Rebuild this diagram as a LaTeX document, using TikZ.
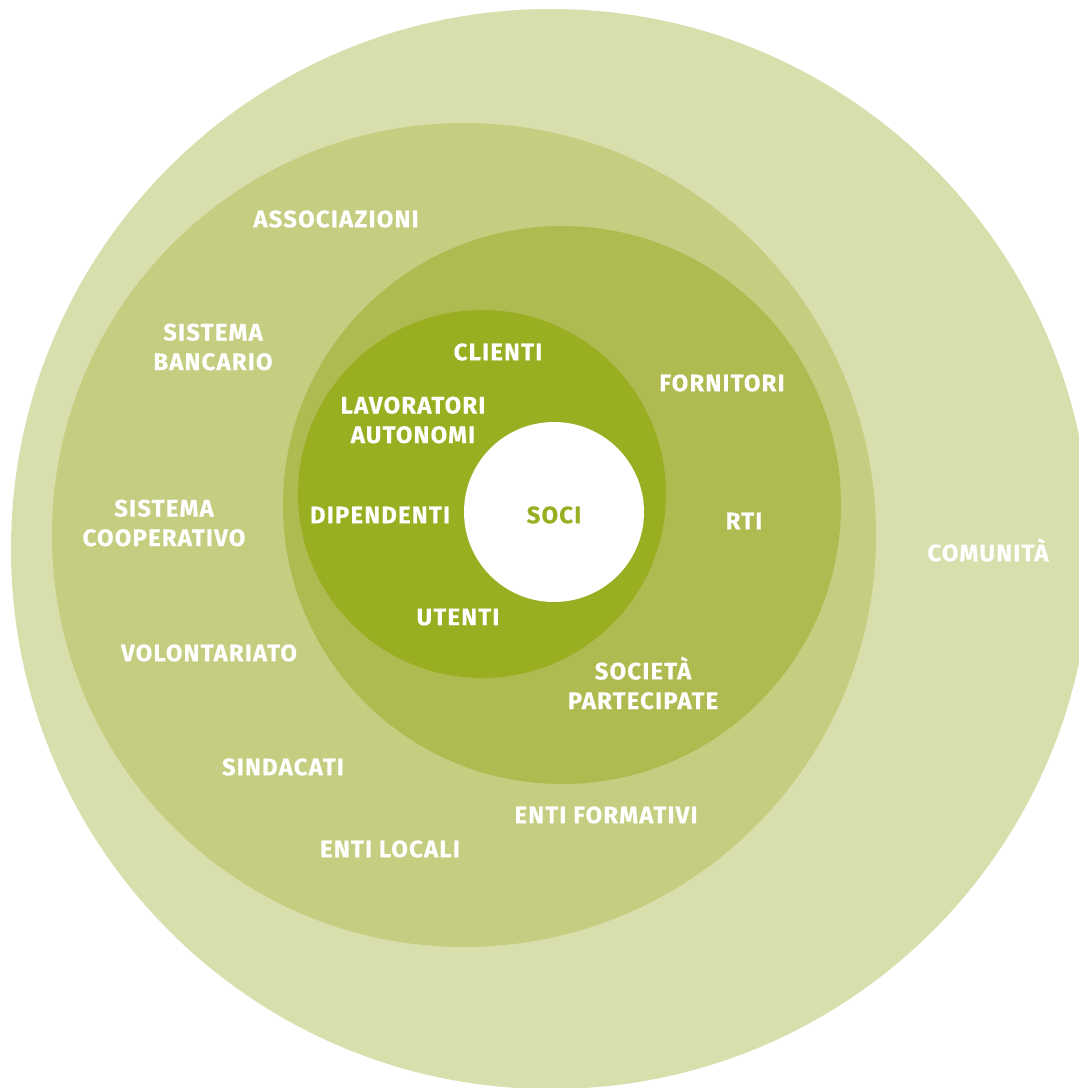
\documentclass[tikz,border=0pt]{standalone}
\usepackage{fontspec}
\setmainfont{Fira Sans}
\newfontfamily\lblfont{Fira Sans}[LetterSpace=5, BoldFeatures={FakeBold=0.25}]
\definecolor{comunita}{HTML}{D8DFAD}
\definecolor{rete}{HTML}{C4CD80}
\definecolor{filiera}{HTML}{AFBB50}
\definecolor{interni}{HTML}{9AAE22}
\tikzset{
  ring/.style={draw=none},
  lbl/.style={text=white, font=\lblfont\fontsize{17}{21}\selectfont\bfseries, align=center, inner sep=0pt}
}
\begin{document}
\begin{tikzpicture}[x=0.025cm, y=-0.025cm]
    \useasboundingbox (0, 0) rectangle (1079, 1088);
    \begin{scope}
        \clip (0, 0) rectangle (1079, 1088);
        \fill[ring, comunita] (551, 549) circle (540);
        \fill[ring, rete] (464, 535) circle (412);
        \fill[ring, filiera] (562, 505) circle (279);
        \fill[ring, interni] (482, 494) circle (184);
        \fill[ring, white] (554, 512) circle (90);
    \end{scope}
    % anello esterno
    \node[lbl] (comunita) at (988, 550) {COMUNITÀ};
    % secondo anello
    \node[lbl] (associazioni) at (336, 219) {ASSOCIAZIONI};
    \node[lbl] (bancario) at (213, 347) {SISTEMA\\BANCARIO};
    \node[lbl] (cooperativo) at (164, 523) {SISTEMA\\COOPERATIVO};
    \node[lbl] (volontariato) at (209, 653) {VOLONTARIATO};
    \node[lbl] (sindacati) at (283, 767) {SINDACATI};
    \node[lbl] (locali) at (390, 849) {ENTI LOCALI};
    \node[lbl] (formativi) at (606, 815) {ENTI FORMATIVI};
    % terzo anello
    \node[lbl] (fornitori) at (722, 383) {FORNITORI};
    \node[lbl] (rti) at (744, 521) {RTI};
    \node[lbl] (partecipate) at (643, 683) {SOCIETÀ\\PARTECIPATE};
    % quarto anello
    \node[lbl] (clienti) at (498, 352) {CLIENTI};
    \node[lbl] (autonomi) at (413, 420) {LAVORATORI\\AUTONOMI};
    \node[lbl] (dipendenti) at (380, 515) {DIPENDENTI};
    \node[lbl] (utenti) at (458, 617) {UTENTI};
    % centro
    \node[lbl, text=interni] (soci) at (554, 515) {SOCI};
\end{tikzpicture}
\end{document}
